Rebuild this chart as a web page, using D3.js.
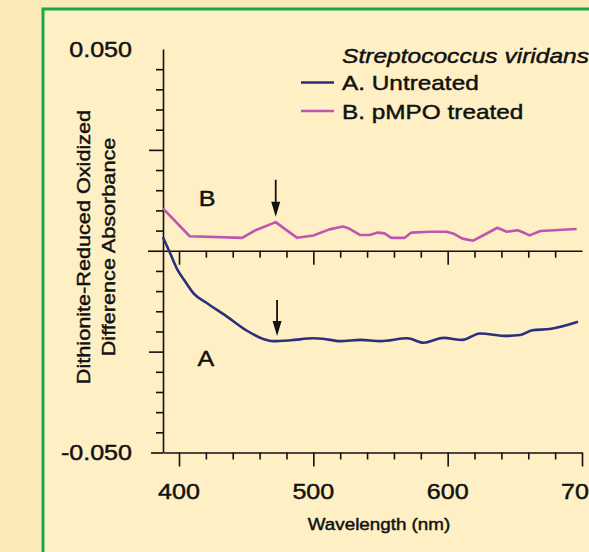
<!DOCTYPE html>
<html>
<head>
<meta charset="utf-8">
<script src="https://cdn.jsdelivr.net/npm/d3@7"></script>
<style>
  body { margin: 0; background: #fcebb8; }
  svg { display: block; }
  text { font-family: "Liberation Sans", Arial, sans-serif; fill: #111; }
  text.med { stroke: #111; stroke-width: 0.45px; }
</style>
</head>
<body>
<figure id="chart" style="margin:0"></figure>
<script>
// series A: untreated
var wavelengthsA = [388, 393, 399, 404, 411, 421, 436, 450, 463, 470, 483, 500, 507, 520, 535, 550, 570, 582, 597, 611, 624, 644, 654, 663, 676, 697];
var absorbA = [0.0034, -0.0003, -0.0048, -0.0073, -0.0106, -0.0130, -0.0164, -0.0197, -0.0219, -0.0224, -0.0222, -0.0217, -0.0218, -0.0224, -0.0221, -0.0224, -0.0217, -0.0228, -0.0216, -0.0221, -0.0205, -0.0211, -0.0209, -0.0197, -0.0194, -0.0176];

// series B: pMPO treated
var wavelengthsB = [388, 408, 447, 457, 472, 478, 488, 500, 512, 522, 526, 535, 542, 548, 553, 558, 568, 573, 587, 599, 604, 611, 619, 627, 637, 644, 652, 655, 661, 669, 696];
var absorbB = [0.0105, 0.0036, 0.0032, 0.0051, 0.0071, 0.0056, 0.0032, 0.0038, 0.0053, 0.0060, 0.0056, 0.0039, 0.0039, 0.0045, 0.0043, 0.0032, 0.0032, 0.0045, 0.0047, 0.0047, 0.0043, 0.0030, 0.0025, 0.0039, 0.0057, 0.0047, 0.0051, 0.0047, 0.0038, 0.0049, 0.0054];

var seriesNames = ["A. Untreated", "B. pMPO treated"];
var seriesColors = ["#2b2f7e", "#c055b1"];
var legendTitle = "Streptococcus viridans";
var xTickLabels = [400, 500, 600, 700];
var yTickLabels = [0.05, -0.05];

// arrows mark the ~472 nm feature on both curves
var arrowX = [472, 473];
var arrowTop = [0.0176, -0.0122];
var arrowTip = [0.0084, -0.0211];

let dimensions = {
    width: 589,
    height: 552,
    plotLeft: 163,
    plotRight: 582,
    plotTop: 49,
    plotBottom: 452.5
};

var SX = 1.14; // the source lettering is a bit wide

var svg = d3.select("figure#chart")
    .append("svg")
    .attr("width", dimensions.width)
    .attr("height", dimensions.height);

// panel with green border
svg.append("rect")
    .attr("x", 43).attr("y", 9)
    .attr("width", 600).attr("height", 600)
    .attr("fill", "#fef0c4")
    .attr("stroke", "#1aa84a")
    .attr("stroke-width", 3);

// 400 sits at x=179, 700 at the right end
var pxPerNm = (dimensions.plotRight - 179) / 300;
var xScale = d3.scaleLinear()
    .domain([400 - (179 - dimensions.plotLeft) / pxPerNm, 700])
    .range([dimensions.plotLeft, dimensions.plotRight]);

var yScale = d3.scaleLinear()
    .domain([-0.05, 0.05])
    .range([dimensions.plotBottom, dimensions.plotTop]);

var isMajorX = d => d % 100 === 0;
var isMajorY = d => Math.abs(Math.round(d * 1000) % 25) === 0;

// ---- y axis
var yTicks = d3.range(-50, 50, 5).map(d => d / 1000);
var yAxis = svg.append("g")
    .attr("transform", `translate(${dimensions.plotLeft}, 0)`)
    .call(d3.axisLeft(yScale).tickValues(yTicks).tickSizeOuter(0).tickFormat(""));
yAxis.select(".domain").attr("stroke", "#111").attr("stroke-width", 1.6);
yAxis.selectAll(".tick line")
    .attr("stroke", "#111").attr("stroke-width", 1.6)
    .attr("x2", d => d === 0 ? -15 : d === -0.05 ? -12 : isMajorY(d) ? -14 : -7);

yAxis.selectAll(".ytl")
    .data(yTickLabels)
    .enter()
    .append("text")
    .attr("class", "med")
    .attr("transform", d => `translate(-31, ${yScale(d)}) scale(${SX},1)`)
    .attr("dy", "0.36em")
    .attr("text-anchor", "end")
    .attr("font-size", 22)
    .text(d => d3.format(".3f")(d).replace("−", "-"));

// ---- zero line with ticks
var zeroAxis = svg.append("g")
    .attr("transform", `translate(0, ${yScale(0)})`)
    .call(d3.axisBottom(xScale).tickValues(d3.range(400, 700, 20)).tickSizeOuter(0).tickFormat(""));
zeroAxis.select(".domain").attr("stroke", "#111").attr("stroke-width", 1.6);
zeroAxis.selectAll(".tick line")
    .attr("stroke", "#111").attr("stroke-width", 1.6)
    .attr("y2", d => isMajorX(d) ? 14 : 7);

// ---- bottom axis
var xAxis = svg.append("g")
    .attr("transform", `translate(0, ${dimensions.plotBottom})`)
    .call(d3.axisBottom(xScale).tickValues(d3.range(400, 701, 20)).tickSizeOuter(0).tickFormat(""));
xAxis.select(".domain").attr("stroke", "#111").attr("stroke-width", 1.6);
xAxis.selectAll(".tick line")
    .attr("stroke", "#111").attr("stroke-width", 1.6)
    .attr("y2", d => isMajorX(d) ? 14 : 7);

xAxis.selectAll(".xtl")
    .data(xTickLabels)
    .enter()
    .append("text")
    .attr("class", "med")
    .attr("transform", d => `translate(${xScale(d)}, 46) scale(${SX},1)`)
    .attr("text-anchor", "middle")
    .attr("font-size", 22)
    .text(d => d);

svg.append("text")
    .attr("class", "med")
    .attr("transform", `translate(379, 530) scale(${SX},1)`)
    .attr("text-anchor", "middle")
    .attr("font-size", 16.5)
    .text("Wavelength (nm)");

// y title, two lines
var yTitle = ["Dithionite-Reduced Oxidized", "Difference Absorbance"];
svg.selectAll(".ytitle")
    .data(yTitle)
    .enter()
    .append("text")
    .attr("class", "med")
    .attr("transform", (d, i) => `translate(${83 + i * 25}, 247) rotate(-90) scale(${SX},1)`)
    .attr("dy", "0.36em")
    .attr("text-anchor", "middle")
    .attr("font-size", 19)
    .text(d => d);

// ---- lines
var line = d3.line()
    .x(d => xScale(d.w))
    .y(d => yScale(d.v));

var dataA = wavelengthsA.map((w, i) => ({ w: w, v: absorbA[i] }));
var dataB = wavelengthsB.map((w, i) => ({ w: w, v: absorbB[i] }));

svg.append("path")
    .datum(dataB)
    .attr("d", line.curve(d3.curveLinear))
    .attr("fill", "none")
    .attr("stroke", seriesColors[1])
    .attr("stroke-width", 2.6)
    .attr("stroke-linejoin", "round");

svg.append("path")
    .datum(dataA)
    .attr("d", line.curve(d3.curveMonotoneX))
    .attr("fill", "none")
    .attr("stroke", seriesColors[0])
    .attr("stroke-width", 2.6)
    .attr("stroke-linejoin", "round");

// ---- arrows
arrowX.forEach((w, i) => {
    var x = xScale(w), y0 = yScale(arrowTop[i]), y1 = yScale(arrowTip[i]);
    svg.append("line")
        .attr("x1", x).attr("x2", x)
        .attr("y1", y0).attr("y2", y1 - 10)
        .attr("stroke", "#111").attr("stroke-width", 1.8);
    svg.append("path")
        .attr("d", `M${x - 4.5},${y1 - 15} L${x + 4.5},${y1 - 15} L${x},${y1} Z`)
        .attr("fill", "#111");
});

// curve letters
var curveLetters = ["A", "B"];
var letterW = [420, 421];
var letterV = [-0.0265, 0.0131];
svg.selectAll(".letter")
    .data(curveLetters)
    .enter()
    .append("text")
    .attr("class", "med")
    .attr("transform", (d, i) => `translate(${xScale(letterW[i])}, ${yScale(letterV[i])}) scale(${SX},1)`)
    .attr("dy", "0.36em")
    .attr("text-anchor", "middle")
    .attr("font-size", 22)
    .text(d => d);

// ---- legend
var legend = svg.append("g");
legend.append("text")
    .attr("class", "med")
    .attr("transform", `translate(342, 55) scale(1.17,1)`)
    .attr("dy", "0.36em")
    .attr("font-size", 21)
    .attr("font-style", "italic")
    .text(legendTitle);

seriesNames.forEach((name, i) => {
    var y = 82.5 + i * 28.5;
    legend.append("line")
        .attr("x1", 301).attr("x2", 334)
        .attr("y1", y).attr("y2", y)
        .attr("stroke", seriesColors[i])
        .attr("stroke-width", 2.4);
    legend.append("text")
        .attr("class", "med")
        .attr("transform", `translate(342, ${y}) scale(1.16,1)`)
        .attr("dy", "0.36em")
        .attr("font-size", 21)
        .text(name);
});
</script>
</body>
</html>
